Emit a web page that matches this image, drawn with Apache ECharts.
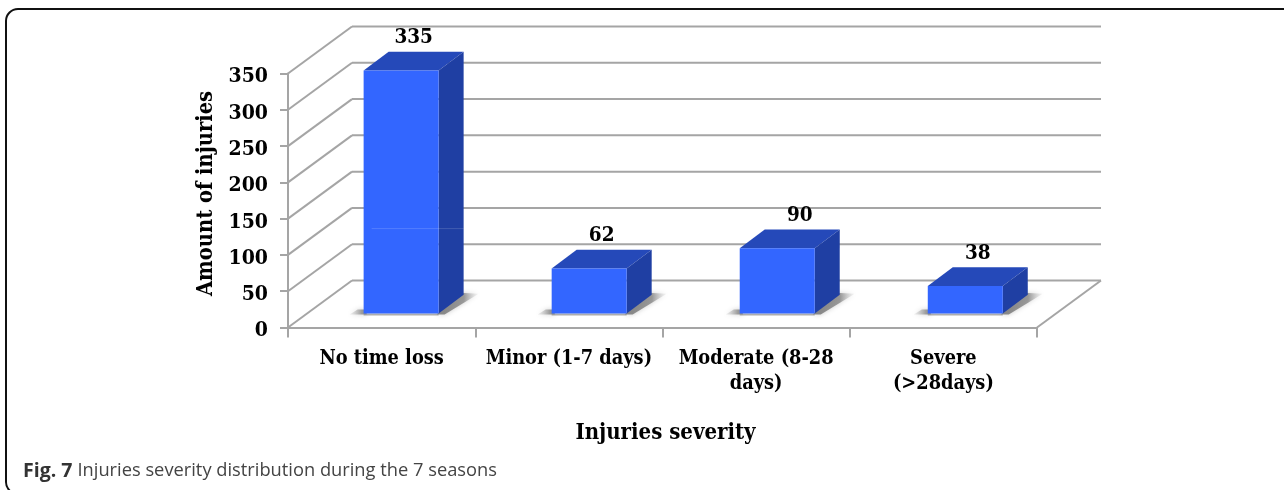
<!DOCTYPE html>
<html><head><meta charset="utf-8">
<style>html,body{margin:0;padding:0;background:#fff}#c{width:1284px;height:490px}</style>
<script src="https://cdn.jsdelivr.net/npm/echarts@6/dist/echarts.min.js"></script>
</head><body><div id="c"></div>
<script>
var categories = ['No time loss', 'Minor (1-7 days)', 'Moderate (8-28\ndays)', 'Severe\n(>28days)'];
var injuries = [335, 62, 90, 38];
var yTicks = [0, 50, 100, 150, 200, 250, 300, 350];
var seamValue = 117;

var SERIF = '"DejaVu Serif Condensed","DejaVu Serif",serif';
var WALL_DX = 64, WALL_DY = -47, FLOOR_LIFT = 14, BAR_SHIFT = 19.5, BAR_SPREAD = 0.8, BAR_W = 75, BAR_DX = 25, BAR_DY = -18.7;
var LABEL_NUDGE = [0, 0, 10, 0];
var GRID_COLOR = '#a5a5a5';

function wall(params, api) {
  var cs = params.coordSys, v = api.value(0);
  var y = api.coord([0, v])[1], x0 = cs.x, x1 = cs.x + cs.width;
  var ls = { stroke: GRID_COLOR, lineWidth: 2, fill: null };
  var kids = [
    { type: 'line', shape: { x1: x0, y1: y, x2: x0 + WALL_DX, y2: y + WALL_DY }, style: ls },
    { type: 'line', shape: { x1: x0 + WALL_DX, y1: y + WALL_DY, x2: x1 + WALL_DX, y2: y + WALL_DY }, style: ls }
  ];
  if (v === 0) kids.push({ type: 'line', shape: { x1: x1 + WALL_DX, y1: y + WALL_DY, x2: x1, y2: y }, style: ls });
  return { type: 'group', silent: true, children: kids };
}

function bar(params, api) {
  var i = api.value(0);
  var c = api.coord([i, 0]), top = api.coord([i, api.value(1)]);
  var l = c[0] + BAR_SHIFT + BAR_SPREAD * i - BAR_W / 2, r = l + BAR_W;
  var b = c[1] - FLOOR_LIFT, t = top[1] - FLOOR_LIFT;
  var dx = BAR_DX, dy = BAR_DY;
  var kids = [
    { type: 'polygon', shape: { points: [[r - 2, b + 1], [r + dx - 4, b + dy - 2], [r + dx + 15, b + dy - 1], [r + 6, b + 1]] },
      style: { shadowBlur: 5, shadowColor: 'rgba(170,170,170,0.7)', fill: { type: 'linear', x: 0, y: 0, x2: 1, y2: 0, colorStops: [{ offset: 0, color: 'rgba(120,120,120,0.9)' }, { offset: 0.65, color: 'rgba(135,135,135,0.8)' }, { offset: 1, color: 'rgba(215,215,215,0.2)' }] } } },
    { type: 'polygon', shape: { points: [[l - 14, b + 1], [l - 6, b - 4], [l + 3, b - 4], [l + 3, b + 1]] },
      style: { shadowBlur: 5, shadowColor: 'rgba(170,170,170,0.7)', fill: { type: 'linear', x: 0, y: 0, x2: 1, y2: 0, colorStops: [{ offset: 0, color: 'rgba(210,210,210,0.3)' }, { offset: 0.7, color: 'rgba(140,140,140,0.8)' }, { offset: 1, color: 'rgba(125,125,125,0.9)' }] } } },
    { type: 'line', shape: { x1: l, y1: b + 1, x2: r, y2: b + 1 }, style: { stroke: 'rgba(140,140,140,0.7)', lineWidth: 2 } },
    { type: 'polygon', shape: { points: [[l, t], [l + dx, t + dy], [r + dx, t + dy], [r, t]] }, style: { fill: '#2549b9' } },
    { type: 'polygon', shape: { points: [[r, t], [r + dx, t + dy], [r + dx, b + dy], [r, b]] }, style: { fill: '#1f3fa3' } },
    { type: 'rect', shape: { x: l, y: t, width: BAR_W, height: b - t }, style: { fill: '#3366ff' } },
    { type: 'text', x: r - BAR_W / 2 + dx / 2 + LABEL_NUDGE[i], y: t + dy - 14, style: { text: String(api.value(1)), font: 'bold 20.5px ' + SERIF, fill: '#000', align: 'center', verticalAlign: 'middle' } }
  ];
  if (api.value(1) > seamValue) {
    var sy = api.coord([i, seamValue])[1] - FLOOR_LIFT;
    kids.push({ type: 'line', shape: { x1: l + 8, y1: sy, x2: r + dx, y2: sy }, style: { stroke: 'rgba(255,255,255,0.15)', lineWidth: 1 } });
  }
  return { type: 'group', silent: true, children: kids };
}

var chart = echarts.init(document.getElementById('c'), null, { renderer: 'canvas' });
chart.setOption({
  animation: false,
  backgroundColor: '#fff',
  title: {
    left: 23, top: 461, padding: 0,
    text: '{b|Fig. 7} {n|Injuries severity distribution during the 7 seasons}',
    textStyle: { fontWeight: 'normal', rich: {
      b: { fontFamily: '"Open Sans"', fontWeight: 'bold', fontSize: 19.5, color: '#333' },
      n: { fontFamily: '"Open Sans"', fontWeight: 'normal', fontSize: 18.3, color: '#444' }
    } }
  },
  graphic: [{
    type: 'rect', silent: true, z: -10,
    shape: { x: 6, y: 9, width: 1300, height: 485, r: 12 },
    style: { fill: '#fff', stroke: '#111', lineWidth: 2 }
  }],
  grid: { left: 288, right: 247, top: 73.5, bottom: 162.5, containLabel: false },
  xAxis: {
    type: 'category', data: categories,
    name: 'Injuries severity', nameLocation: 'middle', nameGap: 95,
    nameTextStyle: { fontFamily: SERIF, fontWeight: 'bold', fontSize: 22, color: '#000', padding: [0, 0, 0, 6] },
    axisLine: { lineStyle: { color: GRID_COLOR, width: 2 } },
    axisTick: { show: true, length: 10, alignWithLabel: false, lineStyle: { color: GRID_COLOR, width: 2 } },
    axisLabel: { interval: 0, margin: 19, lineHeight: 25, fontFamily: SERIF, fontWeight: 'bold', fontSize: 19.8, color: '#000' }
  },
  yAxis: {
    type: 'value', min: 0, max: 350, interval: 50,
    name: 'Amount of injuries', nameLocation: 'middle', nameGap: 71, nameRotate: 90,
    nameTextStyle: { fontFamily: SERIF, fontWeight: 'bold', fontSize: 21.7, color: '#000', padding: [0, 0, 0, 14] },
    axisLine: { show: true, lineStyle: { color: GRID_COLOR, width: 2 } },
    axisTick: { show: true, length: 8, lineStyle: { color: GRID_COLOR, width: 2 } },
    splitLine: { show: false },
    axisLabel: {
      margin: 20, formatter: '{v|{value}}',
      rich: { v: { padding: [7, 0, 0, 0], fontFamily: SERIF, fontWeight: 'bold', fontSize: 21, color: '#000' } }
    }
  },
  series: [
    { type: 'custom', name: 'walls', renderItem: wall, data: yTicks.map(function (v) { return [v]; }), encode: { y: 0 }, z: 1, clip: false, silent: true },
    { type: 'custom', name: 'Injuries', renderItem: bar, data: injuries.map(function (v, i) { return [i, v]; }), encode: { x: 0, y: 1 }, z: 2, clip: false }
  ]
});
</script></body></html>
